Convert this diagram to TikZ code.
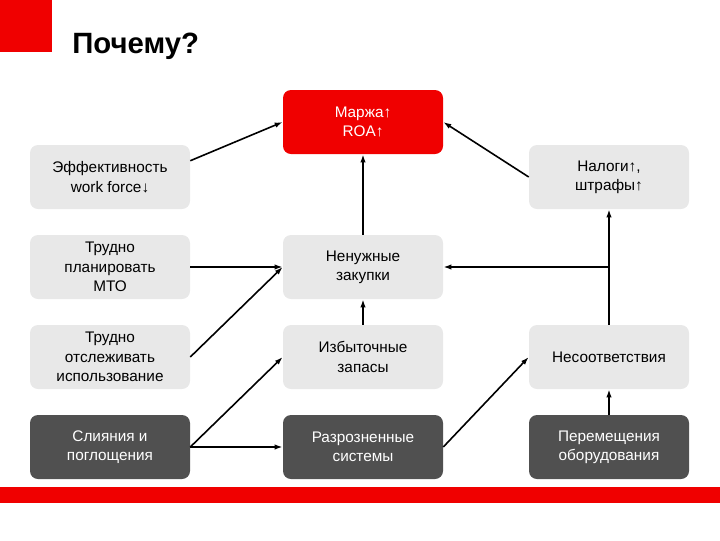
\documentclass[tikz,border=0pt]{standalone}
\usepackage{fontspec}
\setmainfont{Liberation Sans}
\usetikzlibrary{arrows.meta}
\definecolor{myred}{RGB}{240,0,0}
\definecolor{lgrey}{RGB}{232,232,232}
\definecolor{dgrey}{RGB}{80,80,80}
\begin{document}
\begin{tikzpicture}[x=0.75pt,y=-0.75pt,
  box/.style={rounded corners=6pt,minimum width=120pt,minimum height=48pt,align=center,font=\fontsize{11.5}{14.5}\selectfont,inner sep=0pt},
  lbox/.style={box,fill=lgrey,text=black},
  dbox/.style={box,fill=dgrey,text=white},
  rbox/.style={box,fill=myred,text=white},
  arr/.style={-{Latex[length=6pt,width=4pt]},line width=1.2pt}]
\useasboundingbox (0,0) rectangle (720,540);
\fill[myred] (0,0) rectangle (52,52);
\fill[myred] (0,487) rectangle (720,503);
\node[anchor=west,font=\fontsize{22}{26}\selectfont\bfseries,inner sep=0pt] (title) at (72,46) {Почему?};
\node[rbox] (m) at (363,122) {Маржа↑\\ROA↑};
\node[lbox] (e) at (110,177) {Эффективность\\work force↓};
\node[lbox] (n) at (609,177) {Налоги↑,\\штрафы↑};
\node[lbox] (tp) at (110,267) {Трудно\\планировать\\МТО};
\node[lbox] (nz) at (363,267) {Ненужные\\закупки};
\node[lbox] (to) at (110,357) {Трудно\\отслеживать\\использование};
\node[lbox] (iz) at (363,357) {Избыточные\\запасы};
\node[lbox] (ns) at (609,357) {Несоответствия};
\node[dbox] (sl) at (110,447) {Слияния и\\поглощения};
\node[dbox] (rs) at (363,447) {Разрозненные\\системы};
\node[dbox] (pe) at (609,447) {Перемещения\\оборудования};
\draw[arr] ([yshift=-12pt]e.north east) -- (m.west);
\draw[arr] (n.west) -- (m.east);
\draw[arr] (nz) -- (m);
\draw[arr] (tp.east) -- (nz.west);
\draw[arr] (to.east) -- (nz.west);
\draw[arr] (iz) -- (nz);
\draw[arr] (sl.east) -- (iz.west);
\draw[arr] (sl.east) -- (rs.west);
\draw[arr] (rs.east) -- (ns.west);
\draw[arr] (pe) -- (ns);
\draw[arr] (ns) -- (n);
\coordinate (br) at (ns.north |- nz.east);
\draw[arr] (br) -- (nz.east);
\end{tikzpicture}
\end{document}
